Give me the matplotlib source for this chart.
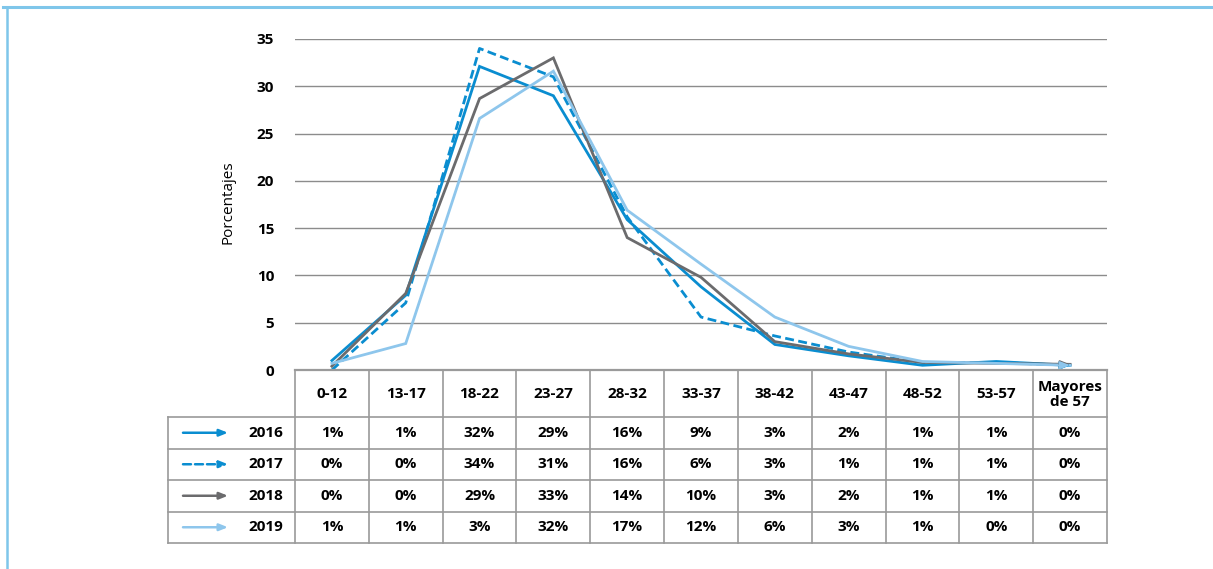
import matplotlib
matplotlib.use("Agg")
import matplotlib.pyplot as plt

plt.rcParams['font.family'] = ['Open Sans', 'DejaVu Sans']

# categorias de edad
grupos = ['0-12', '13-17', '18-22', '23-27', '28-32', '33-37', '38-42',
          '43-47', '48-52', '53-57', 'Mayores\nde 57']
anios = ['2016', '2017', '2018', '2019']

# valores de las lineas
v2016 = [1.0, 7.9, 32.1, 29.0, 15.9, 8.8, 2.7, 1.5, 0.5, 0.9, 0.5]
v2017 = [0.0, 7.1, 34.0, 31.0, 16.2, 5.6, 3.6, 1.9, 0.8, 0.8, 0.5]
v2018 = [0.4, 8.1, 28.7, 33.0, 14.0, 9.8, 3.0, 1.7, 0.8, 0.7, 0.6]
v2019 = [0.7, 2.8, 26.6, 31.6, 16.9, 11.2, 5.6, 2.5, 0.9, 0.7, 0.5]

# texto de la tabla
t2016 = ['1%', '1%', '32%', '29%', '16%', '9%', '3%', '2%', '1%', '1%', '0%']
t2017 = ['0%', '0%', '34%', '31%', '16%', '6%', '3%', '1%', '1%', '1%', '0%']
t2018 = ['0%', '0%', '29%', '33%', '14%', '10%', '3%', '2%', '1%', '1%', '0%']
t2019 = ['1%', '1%', '3%', '32%', '17%', '12%', '6%', '3%', '1%', '0%', '0%']

series = [v2016, v2017, v2018, v2019]
tablas = [t2016, t2017, t2018, t2019]
colores = ['#0a8dd0', '#0a8dd0', '#6b6b6d', '#8ec6ec']
estilos = ['-', (0, (3.2, 1.6)), '-', '-']
FS = 11

W, H = 1213, 569
fig = plt.figure(figsize=(W / 100, H / 100), dpi=100)

# marco azul
fig.add_artist(plt.Line2D([3 / W, 1], [1 - 6.5 / H] * 2, color='#7fc6ea', lw=2.2))
fig.add_artist(plt.Line2D([7 / W] * 2, [0, 1 - 6.5 / H], color='#7fc6ea', lw=1.8))

x0, x1, ytop, ybot = 295, 1107, 39, 370
ax = fig.add_axes([x0 / W, 1 - ybot / H, (x1 - x0) / W, (ybot - ytop) / H])
n = len(grupos)
xs = list(range(n))

for vals, c, ls in zip(series, colores, estilos):
    ax.plot(xs, vals, color=c, lw=2.0, linestyle=ls, solid_joinstyle='miter',
            zorder=3, clip_on=False)
    ax.annotate('', xy=(xs[-1], vals[-1]), xytext=(xs[-1] - 0.15, vals[-1]),
                arrowprops=dict(arrowstyle='-|>,head_length=0.55,head_width=0.22',
                                color=c, lw=1.5, shrinkA=0, shrinkB=0), zorder=4)

ax.set_xlim(-0.5, n - 0.5)
ax.set_ylim(0, 35)
ax.set_yticks(range(0, 36, 5))
ax.set_xticks([])
ax.yaxis.grid(True, color='#8c8c8c', lw=1.0)
ax.set_axisbelow(True)
for s in ax.spines.values():
    s.set_visible(False)
ax.tick_params(axis='y', length=0, pad=15, labelsize=FS)
for lab in ax.get_yticklabels():
    lab.set_fontweight('bold')
fig.text(228 / W, 1 - 202 / H, 'Porcentajes', rotation=90, ha='center', va='center',
         fontsize=FS)

# tabla debajo del grafico
tx0, tb = 168, 543
ppu = (x1 - x0) / n
tax = fig.add_axes([tx0 / W, 1 - tb / H, (x1 - tx0) / W, (tb - ybot) / H])
tax.set_xlim(-0.5 - (x0 - tx0) / ppu, n - 0.5)
tax.set_ylim(tb - ybot, 0)
tax.axis('off')
gris = '#9a9a9a'
hdr = 47
filas = [hdr + i * (tb - ybot - hdr) / 4 for i in range(5)]
left = -0.5 - (x0 - tx0) / ppu

tax.plot([-0.5, n - 0.5], [0, 0], color=gris, lw=1.6, clip_on=False)
for yy in filas:
    tax.plot([left, n - 0.5], [yy, yy], color=gris, lw=1.2, clip_on=False)
for k in range(n + 1):
    tax.plot([k - 0.5, k - 0.5], [0, filas[-1]], color=gris, lw=1.2, clip_on=False)
tax.plot([left, left], [filas[0], filas[-1]], color=gris, lw=1.2, clip_on=False)

for k, g in enumerate(grupos):
    tax.text(k, hdr / 2 + 1, g, ha='center', va='center', fontsize=FS,
             fontweight='bold', linespacing=1.0)

for i, (anio, txt, c, ls) in enumerate(zip(anios, tablas, colores, estilos)):
    yc = (filas[i] + filas[i + 1]) / 2
    xa = left + (183 - tx0) / ppu
    xb = left + (228 - tx0) / ppu
    tax.annotate('', xy=(xb, yc), xytext=(xa, yc),
                 arrowprops=dict(arrowstyle='-|>,head_length=0.5,head_width=0.2',
                                 color=c, lw=1.8, linestyle=ls, shrinkA=0, shrinkB=0))
    tax.text(-0.5 - (295 - 283) / ppu, yc, anio, ha='right', va='center',
             fontsize=FS, fontweight='bold')
    for k, t in enumerate(txt):
        tax.text(k, yc, t, ha='center', va='center', fontsize=FS, fontweight='bold')

fig.savefig('out.png', dpi=100)
